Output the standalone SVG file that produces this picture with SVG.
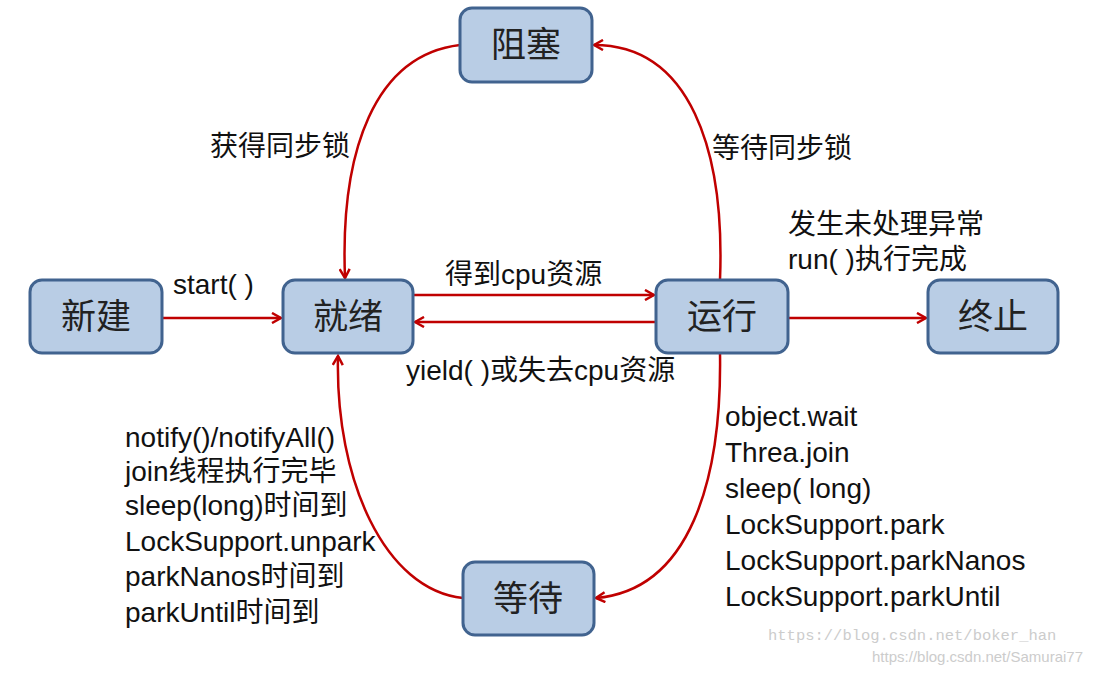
<svg xmlns="http://www.w3.org/2000/svg" width="1093" height="674" viewBox="0 0 1093 674">
<style>
.n rect{fill:#b9cde5;stroke:#41638f;stroke-width:3}
.n text{font-family:"Noto Sans CJK SC",serif;font-size:35px;fill:#222;text-anchor:middle}
.c path{fill:none;stroke:#c00000;stroke-width:2.5;marker-end:url(#a)}
.l{font-family:"Liberation Sans","Noto Sans CJK SC",sans-serif;font-size:28px;fill:#111}
.w{font-family:"Liberation Mono",monospace;font-size:15.5px;fill:#ccc}
</style>
<defs><marker id="a" markerWidth="12" markerHeight="12" refX="10" refY="6" orient="auto" markerUnits="userSpaceOnUse"><path d="M1,1 L10,6 L1,11" fill="none" stroke="#c00000" stroke-width="2.5"/></marker></defs>
<rect width="1093" height="674" fill="#fff"/>
<g class="c">
<path d="M162,318 L281,318"/>
<path d="M413,295 L654,295"/>
<path d="M656,322 L415,322"/>
<path d="M788,318 L926,318"/>
<path d="M460,45 C375,55 340,150 345,278"/>
<path d="M720,280 C725,150 690,45 594,45"/>
<path d="M720,353 C722,480 690,590 596,598"/>
<path d="M463,598 C385,590 335,480 338,356"/>
</g>
<g id="n1" class="n"><rect x="30" y="280" width="132" height="73" rx="12"/><text x="96" y="329">新建</text></g>
<g id="n2" class="n"><rect x="283" y="280" width="130" height="73" rx="12"/><text x="348" y="329">就绪</text></g>
<g id="n3" class="n"><rect x="656" y="280" width="132" height="73" rx="12"/><text x="722" y="329">运行</text></g>
<g id="n4" class="n"><rect x="928" y="280" width="130" height="73" rx="12"/><text x="993" y="329">终止</text></g>
<g id="n5" class="n"><rect x="460" y="8" width="132" height="74" rx="12"/><text x="526" y="57">阻塞</text></g>
<g id="n6" class="n"><rect x="463" y="562" width="131" height="73" rx="12"/><text x="528" y="611">等待</text></g>
<g class="l">
<text x="173" y="294" class="l">start( )</text>
<text x="445" y="284" class="l">得到cpu资源</text>
<text x="406" y="380" class="l">yield( )或失去cpu资源</text>
<text x="210" y="156" class="l">获得同步锁</text>
<text x="712" y="158" class="l">等待同步锁</text>
<text x="788" y="234" class="l">发生未处理异常</text>
<text x="788" y="269" class="l">run( )执行完成</text>
<text x="125" y="447" class="l">notify()/notifyAll()</text>
<text x="125" y="481" class="l">join线程执行完毕</text>
<text x="125" y="515" class="l">sleep(long)时间到</text>
<text x="125" y="551" class="l">LockSupport.unpark</text>
<text x="125" y="586" class="l">parkNanos时间到</text>
<text x="125" y="622" class="l">parkUntil时间到</text>
<text x="725" y="426" class="l">object.wait</text>
<text x="725" y="462" class="l">Threa.join</text>
<text x="725" y="498" class="l">sleep( long)</text>
<text x="725" y="534" class="l">LockSupport.park</text>
<text x="725" y="570" class="l">LockSupport.parkNanos</text>
<text x="725" y="606" class="l">LockSupport.parkUntil</text>
</g>
<text x="768" y="640" class="w">https://blog.csdn.net/boker_han</text>
<text x="1083" y="662" text-anchor="end" style="font-family:'Liberation Sans',sans-serif;font-size:15px;fill:#ccc">https://blog.csdn.net/Samurai77</text>
</svg>
